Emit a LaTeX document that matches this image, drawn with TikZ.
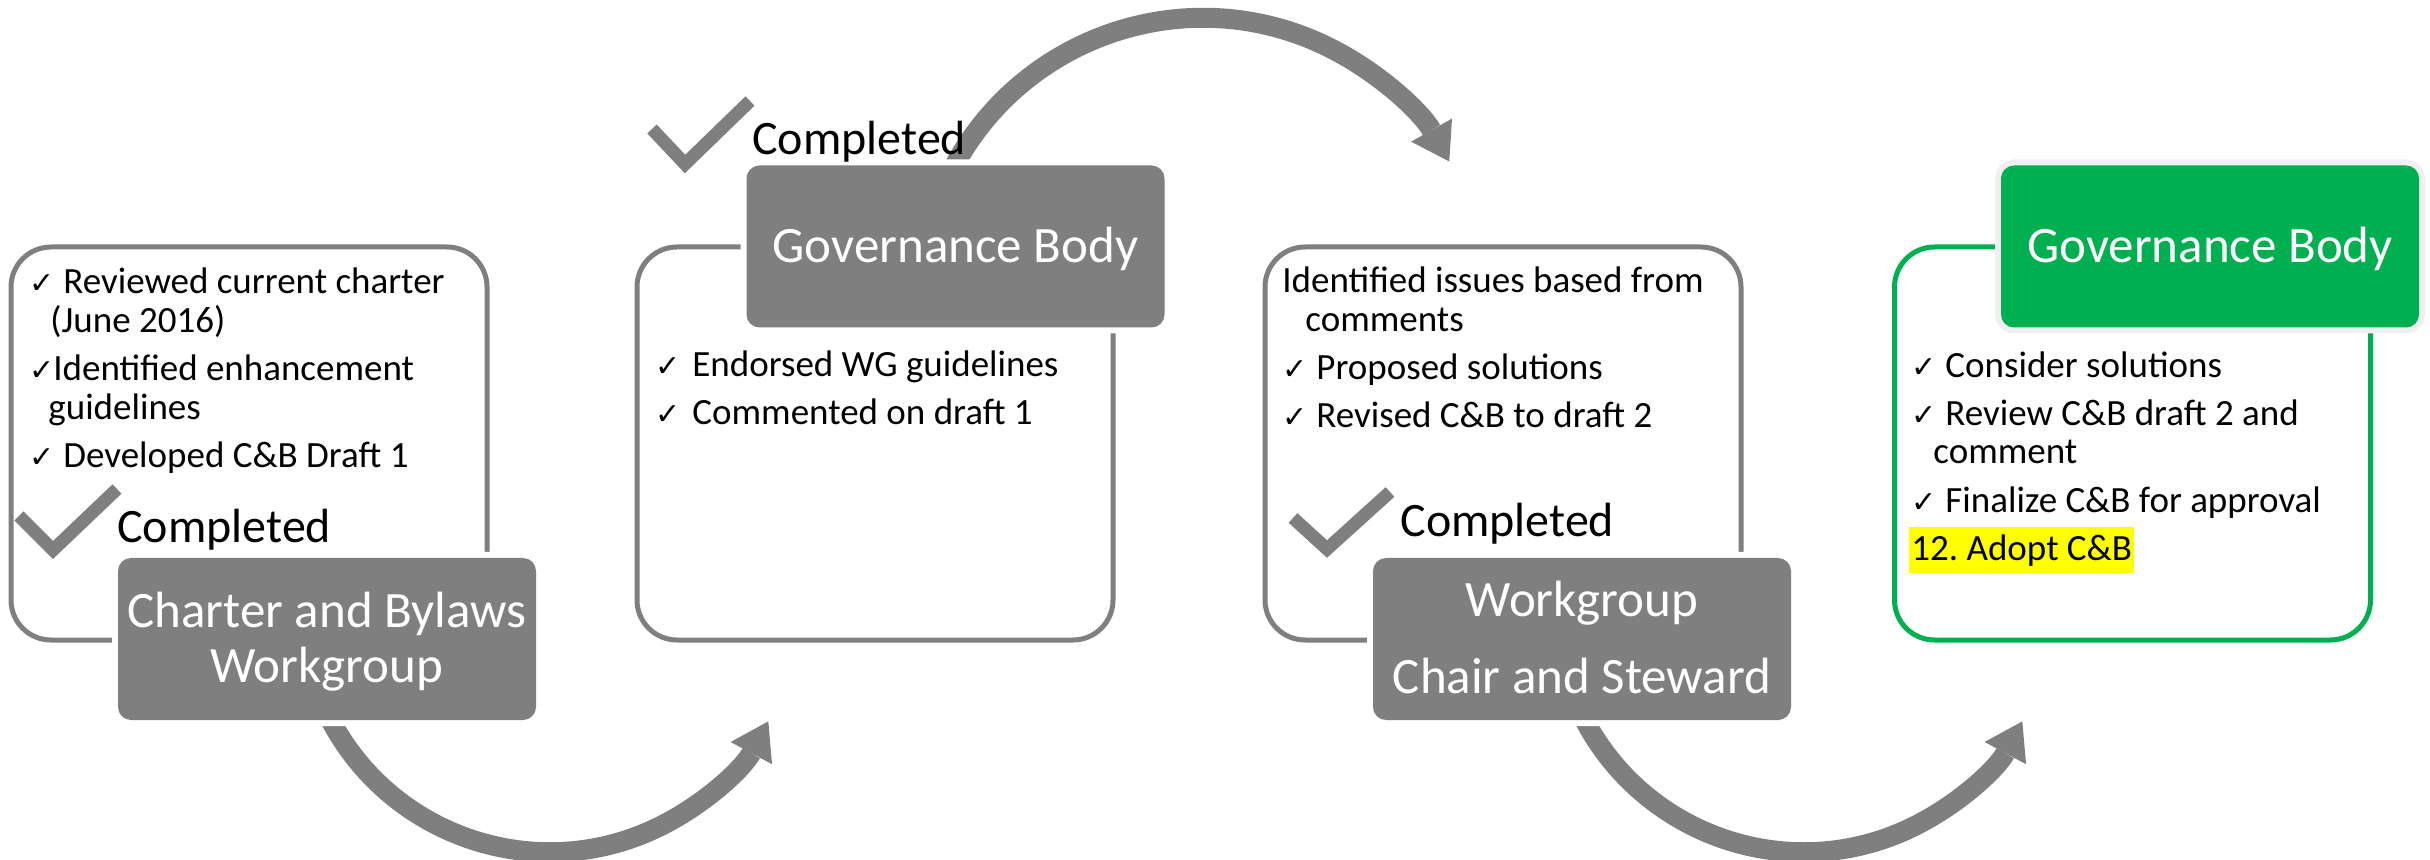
\documentclass[tikz,border=0pt]{standalone}
\usepackage{fontspec}
\setmainfont{Carlito}
\newfontfamily\symfont{DejaVu Sans}
\usetikzlibrary{arrows.meta}
\definecolor{boxgray}{HTML}{7F7F7F}
\definecolor{okgreen}{HTML}{00B050}
\definecolor{hilite}{HTML}{FFFF00}
\definecolor{rimgray}{HTML}{F0F0F0}
\setlength\fboxsep{1pt}
\newcommand\ck[1][17pt]{\makebox[#1][l]{\symfont\fontsize{15}{15}\selectfont ✓}}

\begin{document}
\begin{tikzpicture}[x=0.5pt, y=-0.5pt,
  stage/.style={draw=#1, line width=2.5pt, rounded corners=20pt, minimum width=238pt, minimum height=196.5pt, inner sep=0pt},
  lab/.style={fill=#1, rounded corners=6.5pt, minimum width=209pt, minimum height=81pt, inner sep=0pt, text=white, align=center, font=\fontsize{25.5}{27.5}\selectfont, text depth=0pt},
  notes/.style={anchor=base west, inner sep=0pt, align=left, font=\fontsize{18.5}{19.5}\selectfont},
  done/.style={anchor=base west, inner sep=0pt, font=\fontsize{24}{28}\selectfont},
  tick/.style={draw=boxgray, line width=6.5pt, line join=miter},
  flow/.style={draw=boxgray, line width=10pt, -{Triangle[width=23.5pt, length=18pt, line width=0pt]}}]
\useasboundingbox (0,0) rectangle (2430,860);

% arrows between the stages
\coordinate (arcA) at (325,709);
\coordinate (arcB) at (949.5,175);
\coordinate (arcC) at (1579,709);
\draw[flow] (arcA) arc[start angle=-155, end angle=-28.2, radius=124pt];
\draw[flow] (arcB) arc[start angle=153.6, end angle=29.5, radius=141.5pt];
\draw[flow] (arcC) arc[start angle=-155, end angle=-28.2, radius=124pt];

% stage frames
\node[stage=boxgray] (s1) at (249,443.5) {};
\node[stage=boxgray] (s2) at (875,443.5) {};
\node[stage=boxgray] (s3) at (1503,443.5) {};
\node[stage=okgreen] (s4) at (2132.5,443.5) {};

% who does it
\node[lab=boxgray, preaction={draw=white, line width=6pt}, text height=43.5pt] (cbwg) at (327,639) {Charter and Bylaws\\Workgroup};
\node[lab=boxgray, preaction={draw=white, line width=6pt}, text height=16pt] (gbody) at (955.5,246.5) {Governance Body};
\node[lab=boxgray, preaction={draw=white, line width=6pt}, text height=54.5pt] (chair) at (1582,639) {Workgroup\\[11pt]Chair and Steward};
\node[lab=okgreen, preaction={draw=rimgray, line width=6pt}, text height=16pt] (gfinal) at (2210,246.5) {Governance Body};

% what was done (placed at the last baseline)
\node[notes] (notes1) at (29,468) {\ck Reviewed current charter\\\hspace*{10.5pt}(June 2016)\\[4.5pt]\ck[12pt]Identified enhancement\\\hspace*{9.5pt}guidelines\\[4.5pt]\ck Developed C\&B Draft 1};
\node[notes] (notes2) at (655,425) {\ck[18.5pt]Endorsed WG guidelines\\[4.5pt]\ck[18.5pt]Commented on draft 1};
\node[notes] (notes3) at (1282,428) {Identified issues based from\\\hspace*{11.5pt}comments\\[4.5pt]\ck Proposed solutions\\[4.5pt]\ck Revised C\&B to draft 2};
\node[notes] (notes4) at (1911,560) {\ck Consider solutions\\[4.5pt]\ck Review C\&B draft 2 and\\\hspace*{11pt}comment\\[4.5pt]\ck Finalize C\&B for approval\\[4.5pt]\hspace*{-1pt}\colorbox{hilite}{\rule[-5.5pt]{0pt}{21pt}12.\ Adopt C\&B}};

% completed marks
\draw[tick] (19,516) -- (53,550) -- (117,489);
\draw[tick] (652,129) -- (685,164) -- (750,101);
\draw[tick] (1293,518) -- (1327,549) -- (1390,492);
\node[done] (done1) at (117,543) {Completed};
\node[done] (done2) at (752,155) {Completed};
\node[done] (done3) at (1400,537) {Completed};
\end{tikzpicture}
\end{document}
